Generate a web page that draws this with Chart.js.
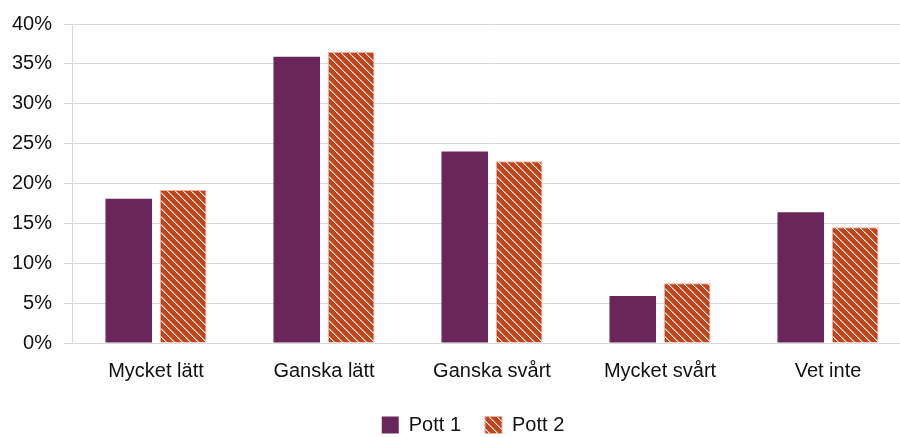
<!DOCTYPE html>
<html>
<head>
<meta charset="utf-8">
<script src="https://cdn.jsdelivr.net/npm/chart.js@4"></script>
<style>
  html, body { margin: 0; padding: 0; background: #fff; overflow: hidden; }
  .wrap { width: 946px; height: 437px; position: relative; }
</style>
</head>
<body>
<div class="wrap"><canvas id="chart"></canvas></div>
<script>
// Data
const categories = ['Mycket lätt', 'Ganska lätt', 'Ganska svårt', 'Mycket svårt', 'Vet inte'];
const pott1 = [18.1, 35.9, 24.0, 5.9, 16.4];
const pott2 = [19.2, 36.5, 22.8, 7.5, 14.5];
const yTicks = [0, 5, 10, 15, 20, 25, 30, 35, 40];

// Hatched fill for Pott 2 (white dotted stripes going down to the right)
function makeHatch() {
    const c = document.createElement('canvas');
    c.width = 8; c.height = 8;
    const g = c.getContext('2d');
    g.fillStyle = '#c0441c';
    g.fillRect(0, 0, 8, 8);
    for (let i = 0; i < 8; i++) {
        g.fillStyle = i % 2 ? '#f3d2c2' : '#ffffff';
        g.fillRect(i, i, 1, 1);
        g.fillStyle = '#e39a7c';
        g.fillRect((i + 1) % 8, i, 1, 1);
    }
    return g.createPattern(c, 'repeat');
}

const font = { family: "'Liberation Sans', Arial, sans-serif", size: 20 };
const gridColor = '#d9d9d9';

new Chart(document.getElementById('chart').getContext('2d'), {
    type: 'bar',
    data: {
        labels: categories,
        datasets: [{
            label: 'Pott 1',
            data: pott1,
            backgroundColor: '#6a2659',
            borderColor: '#6a2659',
            borderWidth: 0
        }, {
            label: 'Pott 2',
            data: pott2,
            backgroundColor: makeHatch(),
            borderColor: '#e6b09a',
            borderWidth: 1
        }]
    },
    options: {
        responsive: true,
        maintainAspectRatio: false,
        animation: false,
        layout: { padding: { top: 23, left: 0, right: 0, bottom: -8 } },
        datasets: { bar: { categoryPercentage: 0.649, barPercentage: 0.853 } },
        plugins: {
            tooltip: { enabled: false },
            legend: {
                position: 'bottom',
                labels: {
                    color: '#111111',
                    font: font,
                    boxWidth: 17,
                    boxHeight: 17,
                    padding: 24
                }
            }
        },
        scales: {
            x: {
                grid: { display: false },
                border: { display: true, color: gridColor },
                ticks: { color: '#111111', font: font, padding: 8, maxRotation: 0 },
                afterFit: s => { s.height = 48; }
            },
            y: {
                min: 0,
                max: 40,
                afterBuildTicks: s => { s.ticks = yTicks.map(v => ({ value: v })); },
                grid: { color: gridColor, tickLength: 8, lineWidth: 1 },
                border: { display: true, color: gridColor },
                ticks: { color: '#111111', font: font, padding: 12, callback: v => v + '%' },
                afterFit: s => { s.width = 72; }
            },
            // empty right axis, only reserves the space where the plot runs past the picture
            yRight: {
                position: 'right',
                grid: { display: false },
                border: { display: false },
                ticks: { display: false },
                afterFit: s => { s.width = 34; }
            }
        }
    }
});
</script>
</body>
</html>
